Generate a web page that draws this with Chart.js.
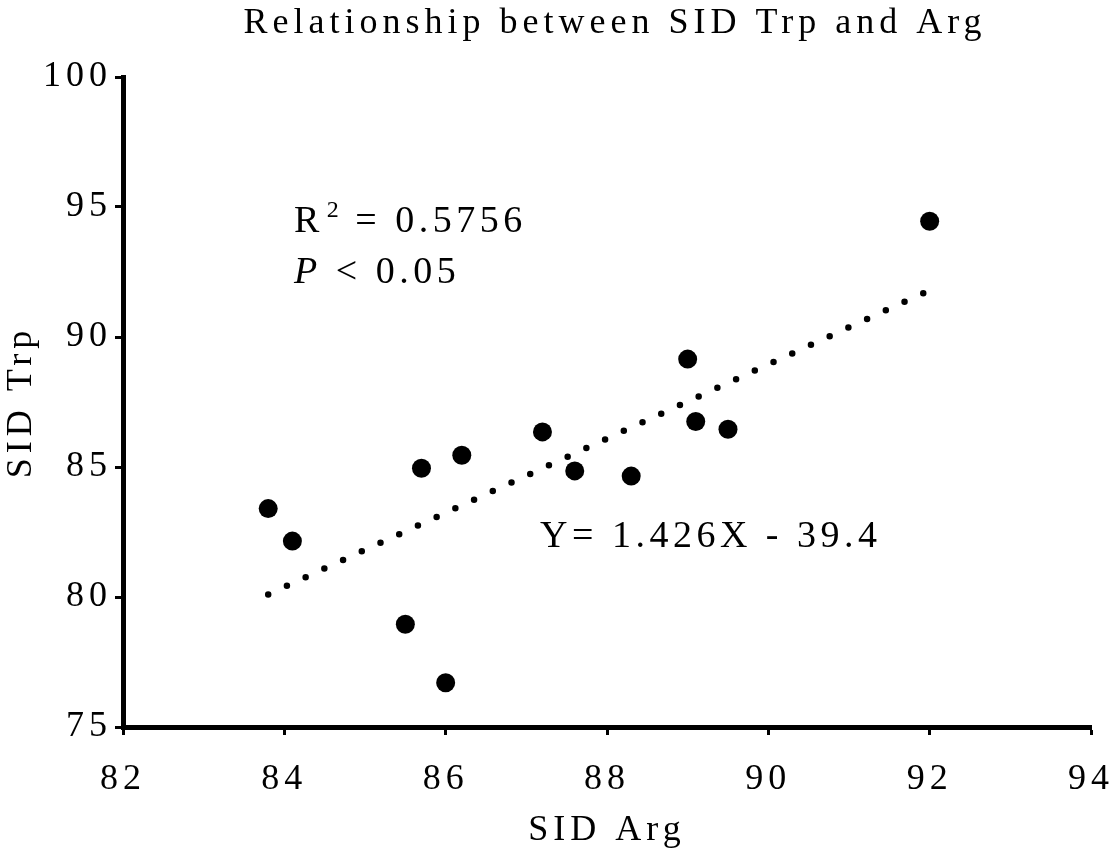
<!DOCTYPE html>
<html>
<head>
<meta charset="utf-8">
<title>SID Trp vs Arg</title>
<script src="https://cdn.jsdelivr.net/npm/chart.js@4.4.1/dist/chart.umd.min.js"></script>
<style>
  html, body { margin: 0; padding: 0; background: #fff; }
  #wrap { width: 1110px; height: 850px; }
</style>
</head>
<body>
<div id="wrap"><canvas id="scatter" width="1110" height="850"></canvas></div>
<script>
// values
const argValues = [83.8, 84.1, 85.5, 85.7, 86.0, 86.2, 87.2, 87.6, 88.3, 89.0, 89.1, 89.5, 92.0];
const trpValues = [83.4, 82.15, 78.95, 84.95, 76.7, 85.45, 86.35, 84.85, 84.65, 89.15, 86.75, 86.45, 94.45];
const trendArg = [83.8, 92.0];
const trendTrp = [80.1, 91.8];
const xTicks = [82, 84, 86, 88, 90, 92, 94];
const yTicks = [75, 80, 85, 90, 95, 100];

const chartTitle = 'Relationship between SID Trp and Arg';
const xTitle = 'SID Arg';
const yTitle = 'SID Trp';
const r2Text = '0.5756';
const pText = '0.05';
const equationText = 'Y= 1.426X - 39.4';

const serif = "'Liberation Serif', 'Times New Roman', serif";
const axisSpacing = '5px';

// canvas letter spacing is reset whenever Chart.js touches the canvas size
const spacing = {
  id: 'spacing',
  beforeUpdate(chart) { chart.ctx.letterSpacing = axisSpacing; },
  beforeLayout(chart) { chart.ctx.letterSpacing = axisSpacing; },
  beforeDraw(chart) { chart.ctx.letterSpacing = axisSpacing; }
};

const notes = {
  id: 'notes',
  afterDraw(chart) {
    const ctx = chart.ctx;
    const x = chart.scales.x, y = chart.scales.y;
    ctx.save();
    ctx.fillStyle = '#000';
    ctx.textBaseline = 'alphabetic';

    // title
    ctx.letterSpacing = '5px';
    ctx.font = '36px ' + serif;
    ctx.textAlign = 'center';
    ctx.fillText(chartTitle, (chart.chartArea.left + chart.chartArea.right) / 2 + 8, 33);
    ctx.textAlign = 'left';

    // R^2 line
    ctx.letterSpacing = '4.5px';
    let px = x.getPixelForValue(84.12);
    let py = y.getPixelForValue(94.05);
    ctx.font = '38px ' + serif;
    ctx.fillText('R', px, py);
    px += ctx.measureText('R').width + 3;
    ctx.font = '24px ' + serif;
    ctx.fillText('2', px, py - 15);
    px += ctx.measureText('2').width - 2;
    ctx.font = '38px ' + serif;
    ctx.fillText(' = ' + r2Text, px, py);

    // P line
    px = x.getPixelForValue(84.12);
    py = y.getPixelForValue(92.08);
    ctx.font = 'italic 38px ' + serif;
    ctx.fillText('P', px, py);
    px += ctx.measureText('P').width;
    ctx.font = '38px ' + serif;
    ctx.fillText(' < ' + pText, px, py);

    // regression equation
    ctx.fillText(equationText, x.getPixelForValue(87.17), y.getPixelForValue(81.92));
    ctx.restore();
  }
};

const tickFont = { family: serif, size: 36, weight: 'normal' };

new Chart(document.getElementById('scatter'), {
  type: 'scatter',
  data: {
    datasets: [
      {
        label: 'SID Trp',
        data: argValues.map((v, i) => ({ x: v, y: trpValues[i] })),
        pointRadius: 9.5,
        pointBackgroundColor: '#000',
        pointBorderWidth: 0,
        order: 1
      },
      {
        label: 'Linear fit',
        data: trendArg.map((v, i) => ({ x: v, y: trendTrp[i] })),
        showLine: true,
        pointRadius: 0,
        borderColor: '#000',
        borderWidth: 6.5,
        borderDash: [0, 20.6],
        borderCapStyle: 'round',
        order: 2
      }
    ]
  },
  options: {
    responsive: false,
    animation: false,
    devicePixelRatio: 1,
    layout: { padding: { top: 77, right: 19, bottom: 0, left: 0 } },
    plugins: {
      legend: { display: false },
      tooltip: { enabled: false },
      title: { display: false }
    },
    scales: {
      x: {
        type: 'linear',
        min: 82,
        max: 94,
        afterBuildTicks: s => { s.ticks = xTicks.map(v => ({ value: v })); },
        afterFit: s => { s.height = 123; s.paddingLeft = 0; s.paddingRight = 0; },
        border: { display: true, color: '#000', width: 5 },
        grid: { display: true, drawOnChartArea: false, tickLength: 8, tickWidth: 3, tickColor: '#000' },
        ticks: { color: '#000', font: tickFont, padding: 23, maxRotation: 0, autoSkip: false },
        title: {
          display: true, text: xTitle, color: '#000',
          font: { family: serif, size: 36, weight: 'normal', lineHeight: 1.1 },
          padding: { top: 0, bottom: 0 }
        }
      },
      y: {
        type: 'linear',
        min: 75,
        max: 100,
        afterBuildTicks: s => { s.ticks = yTicks.map(v => ({ value: v })); },
        afterFit: s => { s.width = 123; s.paddingTop = 0; s.paddingBottom = 0; },
        border: { display: true, color: '#000', width: 5 },
        grid: { display: true, drawOnChartArea: false, tickLength: 8, tickWidth: 3, tickColor: '#000' },
        ticks: { color: '#000', font: tickFont, padding: 3, autoSkip: false },
        title: { display: true, text: yTitle, color: '#000', font: tickFont, padding: { top: 0, bottom: 0 } }
      }
    }
  },
  plugins: [spacing, notes]
});
</script>
</body>
</html>
